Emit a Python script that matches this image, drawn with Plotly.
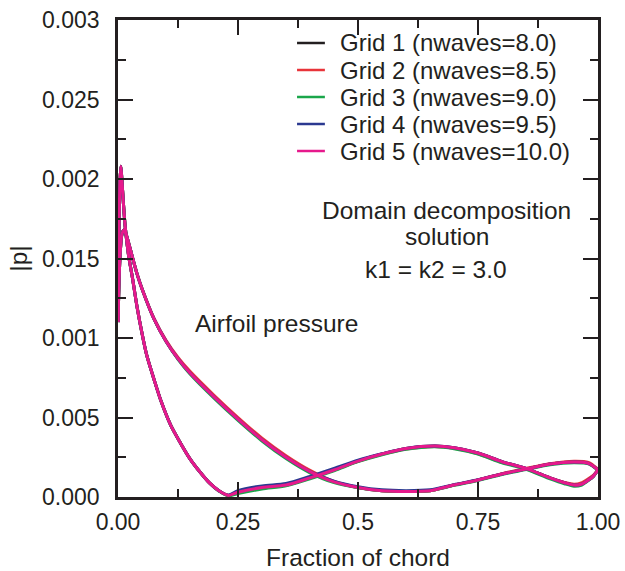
import plotly.graph_objects as go

# Chordwise stations for the two airfoil surfaces
x_upper = [0, 0.004, 0.008, 0.012, 0.016, 0.022, 0.029, 0.04, 0.05, 0.075,
           0.1, 0.125, 0.15, 0.2, 0.25, 0.3, 0.35, 0.4, 0.45, 0.5,
           0.55, 0.6, 0.65, 0.7, 0.75, 0.8, 0.85, 0.9, 0.95, 0.98, 1.0]
x_lower = [0, 0.002, 0.004, 0.006, 0.008, 0.011, 0.015, 0.022, 0.03, 0.04,
           0.05, 0.06, 0.075, 0.09, 0.11, 0.13, 0.15, 0.17, 0.19, 0.21,
           0.23, 0.25, 0.3, 0.35, 0.4, 0.45, 0.5, 0.55, 0.6, 0.66,
           0.7, 0.75, 0.8, 0.85, 0.9, 0.93, 0.95, 0.965, 0.98, 0.99, 1.0]

# |p| on the surface branch with the lower leading-edge peak
p_upper_g1 = [0.00110, 0.00150, 0.00165, 0.00168, 0.00166, 0.00160, 0.00152, 0.00140, 0.00131, 0.00112,
              0.00098, 0.00087, 0.00078, 0.00063, 0.00049, 0.00036, 0.00025, 0.00016, 0.000095, 0.00006,
              0.00004, 0.000035, 0.00004, 0.000075, 0.000107, 0.000145, 0.000176, 0.000207, 0.00022, 0.000212, 0.00017]
p_upper_g2 = [0.00110, 0.00150, 0.00165, 0.00168, 0.00166, 0.00160, 0.00152, 0.00140, 0.00131, 0.001124,
              0.000986, 0.000878, 0.00079, 0.00064, 0.00050, 0.00037, 0.00026, 0.000168, 0.000098, 0.00006,
              0.00004, 0.000035, 0.00004, 0.000075, 0.000107, 0.000147, 0.00018, 0.00021, 0.000225, 0.000218, 0.000175]
p_upper_g3 = [0.00110, 0.00150, 0.00165, 0.00168, 0.00166, 0.00160, 0.00152, 0.00140, 0.00131, 0.00112,
              0.00098, 0.000866, 0.000774, 0.000622, 0.000482, 0.000352, 0.000242, 0.000152, 0.00009, 0.000058,
              0.00004, 0.000035, 0.00004, 0.000073, 0.000104, 0.000142, 0.000172, 0.000203, 0.000215, 0.000208, 0.000168]
p_upper_g4 = [0.00110, 0.00150, 0.00165, 0.00168, 0.00166, 0.00160, 0.00152, 0.00140, 0.00131, 0.00112,
              0.00098, 0.00087, 0.00078, 0.00063, 0.00049, 0.00036, 0.00025, 0.00016, 0.0001, 0.000065,
              0.000045, 0.00004, 0.000045, 0.000078, 0.000108, 0.000145, 0.000176, 0.000207, 0.00022, 0.000212, 0.00017]
p_upper_g5 = [0.00110, 0.00150, 0.00165, 0.00168, 0.00166, 0.00160, 0.00152, 0.00140, 0.00131, 0.00112,
              0.00098, 0.00087, 0.00078, 0.00063, 0.00049, 0.00036, 0.00025, 0.00016, 0.000095, 0.00006,
              0.00004, 0.000035, 0.00004, 0.000075, 0.000107, 0.000145, 0.000176, 0.000207, 0.00022, 0.000212, 0.00017]

# |p| on the surface branch with the sharp leading-edge suction peak
p_lower_g1 = [0.00110, 0.00165, 0.00198, 0.00208, 0.00200, 0.00186, 0.00170, 0.00152, 0.00138, 0.00119,
              0.00103, 0.00089, 0.00074, 0.00060, 0.00045, 0.00034, 0.00024, 0.00016, 0.00009, 0.00004,
              0.00001, 0.00003, 0.00006, 0.000075, 0.00012, 0.00017, 0.000226, 0.00027, 0.000305, 0.00032,
              0.00031, 0.000277, 0.000222, 0.00018, 0.00012, 0.00009, 0.000075, 0.00008, 0.000107, 0.00013, 0.00017]
p_lower_g2 = [0.00110, 0.00165, 0.00198, 0.00208, 0.00200, 0.00186, 0.00170, 0.00152, 0.00138, 0.00119,
              0.00103, 0.00089, 0.00074, 0.00060, 0.00045, 0.00034, 0.00024, 0.00016, 0.00009, 0.00004,
              0.00001, 0.00003, 0.00006, 0.000075, 0.00012, 0.00017, 0.000224, 0.000268, 0.000302, 0.000318,
              0.000306, 0.000272, 0.000218, 0.000178, 0.00012, 0.000092, 0.00008, 0.000088, 0.000115, 0.000136, 0.000172]
p_lower_g3 = [0.00110, 0.00165, 0.00198, 0.00208, 0.00200, 0.00186, 0.00170, 0.00152, 0.00138, 0.00119,
              0.00103, 0.00089, 0.00074, 0.00060, 0.00045, 0.00034, 0.00024, 0.00016, 0.00009, 0.000037,
              0.000007, 0.000022, 0.00005, 0.00007, 0.000115, 0.000165, 0.000222, 0.000266, 0.0003, 0.000316,
              0.000304, 0.00027, 0.000215, 0.000174, 0.000114, 0.000083, 0.000068, 0.000074, 0.000104, 0.000128, 0.00017]
p_lower_g4 = [0.00110, 0.00165, 0.00198, 0.00208, 0.00200, 0.00186, 0.00170, 0.00152, 0.00138, 0.00119,
              0.00103, 0.00089, 0.00074, 0.00060, 0.00045, 0.00034, 0.00024, 0.00016, 0.00009, 0.00004,
              0.000012, 0.00004, 0.00007, 0.000085, 0.00013, 0.00018, 0.000232, 0.000272, 0.000305, 0.00032,
              0.00031, 0.000277, 0.000222, 0.00018, 0.00012, 0.00009, 0.000075, 0.00008, 0.000107, 0.00013, 0.00017]
p_lower_g5 = [0.00110, 0.00165, 0.00198, 0.00208, 0.00200, 0.00186, 0.00170, 0.00152, 0.00138, 0.00119,
              0.00103, 0.00089, 0.00074, 0.00060, 0.00045, 0.00034, 0.00024, 0.00016, 0.00009, 0.00004,
              0.00001, 0.00003, 0.00006, 0.000075, 0.00012, 0.00017, 0.000226, 0.00027, 0.000305, 0.00032,
              0.00031, 0.000277, 0.000222, 0.00018, 0.00012, 0.00009, 0.000075, 0.00008, 0.000107, 0.00013, 0.00017]

grid_names = ["Grid 1 (nwaves=8.0)", "Grid 2 (nwaves=8.5)", "Grid 3 (nwaves=9.0)",
              "Grid 4 (nwaves=9.5)", "Grid 5 (nwaves=10.0)"]
grid_colors = ["#231f20", "#e8343a", "#1aa64a", "#2b3990", "#e6198c"]
upper_series = [p_upper_g1, p_upper_g2, p_upper_g3, p_upper_g4, p_upper_g5]
lower_series = [p_lower_g1, p_lower_g2, p_lower_g3, p_lower_g4, p_lower_g5]

x_ticks = [0, 0.25, 0.5, 0.75, 1.0]
x_tick_text = ["0.00", "0.25", "0.5", "0.75", "1.00"]
y_ticks = [0, 0.0005, 0.001, 0.0015, 0.002, 0.0025, 0.003]
y_tick_text = ["0.000", "0.005", "0.001", "0.015", "0.002", "0.025", "0.003"]

INK = "#231f20"
FONT = "Liberation Sans, Arial, Helvetica, sans-serif"

fig = go.Figure()
for name, color, up, lo in zip(grid_names, grid_colors, upper_series, lower_series):
    fig.add_trace(go.Scatter(x=x_upper, y=up, mode="lines", name=name,
                             line=dict(color=color, width=3, shape="spline", smoothing=0.8),
                             showlegend=False))
    fig.add_trace(go.Scatter(x=x_lower, y=lo, mode="lines", name=name,
                             line=dict(color=color, width=3, shape="spline", smoothing=0.8),
                             showlegend=False))

# Key in the upper right corner: one line swatch and label per grid
row_px = [43, 70, 97, 124, 151]
plot_top, plot_h = 20, 477
for i, (name, color) in enumerate(zip(grid_names, grid_colors)):
    yp = 1 - (row_px[i] - plot_top) / plot_h
    fig.add_shape(type="line", xref="paper", yref="paper",
                  x0=0.373, x1=0.431, y0=yp, y1=yp,
                  line=dict(color=color, width=2.5))
    fig.add_annotation(xref="paper", yref="paper", x=0.4575, y=yp,
                       text=name, showarrow=False, xanchor="left", yanchor="middle",
                       font=dict(family=FONT, size=24, color=INK))

notes = [
    ("Domain decomposition", 0.685, 0.001805),
    ("solution", 0.685, 0.00164),
    ("k1 = k2 = 3.0", 0.6625, 0.001428),
    ("Airfoil pressure", 0.331, 0.001094),
]
for txt, nx, ny in notes:
    fig.add_annotation(x=nx, y=ny, text=txt, showarrow=False,
                       xanchor="center", yanchor="middle",
                       font=dict(family=FONT, size=24.5, color=INK))

axis_common = dict(showline=True, linewidth=2.5, linecolor=INK, mirror="ticks",
                   ticks="inside", tickwidth=2, tickcolor=INK, showgrid=False,
                   zeroline=False, automargin=False,
                   tickfont=dict(family=FONT, size=23, color=INK))

fig.update_xaxes(range=[0, 1], tickmode="array", tickvals=x_ticks, ticktext=x_tick_text,
                 ticklen=15, ticklabelstandoff=3,
                 minor=dict(tickmode="linear", tick0=0, dtick=0.125, ticks="inside",
                            ticklen=8, tickwidth=2, tickcolor=INK),
                 title=dict(text="Fraction of chord", standoff=17,
                            font=dict(family=FONT, size=24.5, color=INK)),
                 **axis_common)
fig.update_yaxes(range=[0, 0.003], tickmode="array", tickvals=y_ticks, ticktext=y_tick_text,
                 ticklen=15, ticklabelstandoff=11,
                 minor=dict(tickmode="linear", tick0=0, dtick=0.00025, ticks="inside",
                            ticklen=8, tickwidth=2, tickcolor=INK),
                 title=dict(text="|p|", standoff=8,
                            font=dict(family=FONT, size=24.5, color=INK)),
                 **axis_common)

fig.update_layout(width=625, height=571, margin=dict(l=118, r=27, t=20, b=74),
                  plot_bgcolor="white", paper_bgcolor="white", showlegend=False)

fig.write_html("out.html")
